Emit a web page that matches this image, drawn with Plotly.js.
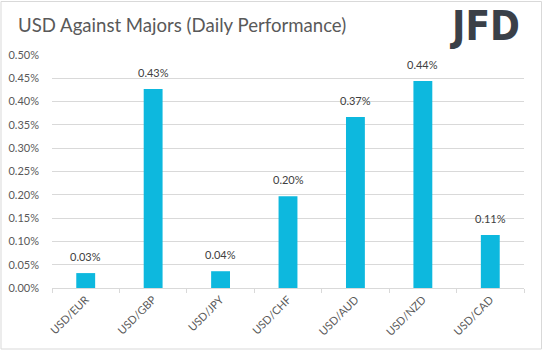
<!DOCTYPE html>
<html><head><meta charset="utf-8">
<script src="https://cdn.plot.ly/plotly-3.0.1.min.js"></script>
<style>html,body{margin:0;padding:0;background:#fff}#chart{width:543px;height:351px;}</style>
</head><body><div id="chart"></div>
<script>
const categories = ["USD/EUR","USD/GBP","USD/JPY","USD/CHF","USD/AUD","USD/NZD","USD/CAD"];
const values = [0.032, 0.427, 0.036, 0.197, 0.367, 0.444, 0.114];
const labels = ["0.03%","0.43%","0.04%","0.20%","0.37%","0.44%","0.11%"];
const yTickVals = [0,0.05,0.10,0.15,0.20,0.25,0.30,0.35,0.40,0.45,0.50];
const yTickText = yTickVals.map(v => v.toFixed(2) + "%");

const font = "Lato, 'Open Sans', sans-serif";
const trace = {
  type: "bar", x: categories, y: values,
  marker: {color: "#0DB8DE"},
  hoverinfo: "none"
};
const pw = 543 - 52 - 19, ph = 351 - 55 - 63;
const valueLabels = categories.map((c, i) => ({
  x: c, y: values[i], xref: "x", yref: "y", text: labels[i], showarrow: false,
  yanchor: "bottom", yshift: 8, font: {family: font, size: 11, color: "#404040"}
}));
const layout = {
  width: 543, height: 351,
  margin: {l: 52, r: 19, t: 55, b: 63},
  paper_bgcolor: "#fff", plot_bgcolor: "#fff",
  bargap: 0.72,
  showlegend: false,
  xaxis: {
    type: "category", tickangle: -45,
    tickfont: {family: font, size: 11, color: "#595959"},
    showline: true, linecolor: "#d9d9d9", linewidth: 1,
    ticks: "outside", tickson: "boundaries", ticklen: 4, tickcolor: "#d9d9d9",
    showgrid: false, fixedrange: true
  },
  yaxis: {
    range: [0, 0.5], tickvals: yTickVals, ticktext: yTickText,
    tickfont: {family: font, size: 11, color: "#595959"},
    gridcolor: "#d9d9d9", gridwidth: 1, zeroline: false, showline: false,
    ticks: "", ticklabelstandoff: 12, fixedrange: true
  },
  annotations: [
    {text: "USD Against Majors (Daily Performance)", xref: "paper", yref: "paper",
     x: (16 - 52) / pw, xanchor: "left", y: (288 - 25) / ph, yanchor: "middle", showarrow: false,
     font: {family: font, size: 18.6, color: "#595959"}},
    {text: "<b>JFD</b>", xref: "paper", yref: "paper", x: (522 - 52) / pw, xanchor: "right",
     y: (288 - 26) / ph, yanchor: "middle",
     showarrow: false, font: {family: "'DejaVu Sans Condensed', 'Liberation Sans Narrow', sans-serif", size: 40, color: "#3a4048"}}
  ].concat(valueLabels),
  shapes: [
    {type: "rect", xref: "paper", yref: "paper",
     x0: (1 - 52) / pw, x1: (541.5 - 52) / pw, y0: (288 - 349) / ph, y1: (288 - 1.5) / ph,
     line: {color: "#d9d9d9", width: 1}, layer: "below"}
  ]
};
Plotly.newPlot("chart", [trace], layout, {displayModeBar: false, staticPlot: true});
</script></body></html>
